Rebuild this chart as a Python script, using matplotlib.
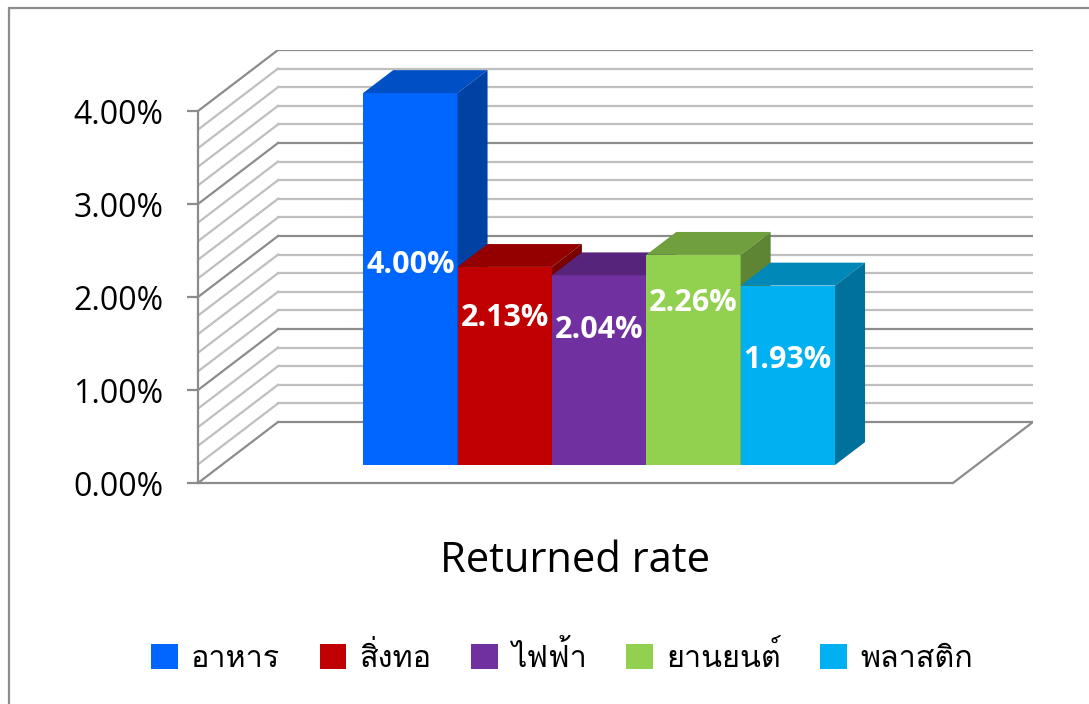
import matplotlib
matplotlib.use('Agg')
import matplotlib.pyplot as plt
from matplotlib.patches import Polygon, Patch, Rectangle
from matplotlib import font_manager
from fontTools.ttLib import TTFont
import numpy as np

# ข้อมูล
categories = ['อาหาร', 'สิ่งทอ', 'ไฟฟ้า', 'ยานยนต์', 'พลาสติก']
values = [4.00, 2.13, 2.04, 2.26, 1.93]   # %
colors = ['#0066FF', '#C00000', '#7030A0', '#92D050', '#00B0F0']
label_pos = [2.15, 1.58, 1.45, 1.74, 1.13]   # ความสูงของป้ายตัวเลขบนแท่ง
group_label = 'Returned rate'
yticks = [0, 1, 2, 3, 4]


def thai_family():
    # หาฟอนต์ที่มีอักษรไทย
    for f in font_manager.fontManager.ttflist:
        try:
            cmap = TTFont(f.fname, fontNumber=0, lazy=True).getBestCmap()
        except Exception:
            continue
        if cmap and 0x0E2D in cmap:
            return f.name
    return 'DejaVu Sans'


THAI = thai_family()
plt.rcParams['font.family'] = ['Open Sans', THAI, 'DejaVu Sans']


def shade(c, k):
    r, g, b = matplotlib.colors.to_rgb(c)
    return (r * k, g * k, b * k)


W, H = 1089, 704
fig = plt.figure(figsize=(W / 100, H / 100), dpi=100)
ax = fig.add_axes([198 / W, (H - 483) / H, 835 / W, 433 / H])

# ความลึกของกราฟ 3 มิติ (หน่วยข้อมูล)
DX, DY = 0.106, 0.656
ymax = 4.0
ax.set_xlim(0, 1 + DX)
ax.set_ylim(0, ymax + DY)

major_c, minor_c = '#8C8C8C', '#BFBFBF'

# ผนังด้านหลังและด้านซ้าย
for v in np.arange(0, ymax + 0.001, 0.2):
    major = abs(v - round(v)) < 1e-6
    c = major_c if major else minor_c
    ax.plot([DX, 1 + DX], [v + DY, v + DY], color=c, lw=1.6, zorder=1)
    ax.plot([0, DX], [v, v + DY], color=c, lw=1.6, zorder=1)
# ขอบพื้นด้านขวา
ax.plot([1, 1 + DX], [0, DY], color=major_c, lw=1.6, zorder=1)

# แท่งกราฟ
f0, f1 = 0.295, 0.67
bw = 0.125
x0 = 0.5 - bw * len(values) / 2
for i, (v, c) in enumerate(zip(values, colors)):
    xl = x0 + i * bw + f0 * DX
    xr = xl + bw
    yb = f0 * DY
    yt = yb + v
    ddx, ddy = (f1 - f0) * DX, (f1 - f0) * DY
    z = 2 + i
    ax.add_patch(Polygon([(xl, yb), (xr, yb), (xr, yt), (xl, yt)],
                         closed=True, fc=c, ec='none', zorder=z))
    ax.add_patch(Polygon([(xl, yt), (xr, yt), (xr + ddx, yt + ddy), (xl + ddx, yt + ddy)],
                         closed=True, fc=shade(c, 0.77), ec='none', zorder=z))
    ax.add_patch(Polygon([(xr, yb), (xr + ddx, yb + ddy), (xr + ddx, yt + ddy), (xr, yt)],
                         closed=True, fc=shade(c, 0.64), ec='none', zorder=z))
    ax.text(xl + bw / 2, yb + label_pos[i], f'{v:.2f}%', color='white',
            fontsize=22, fontweight='bold', ha='center', va='center', zorder=20)

# แกน
for s in ['top', 'right']:
    ax.spines[s].set_visible(False)
ax.spines['left'].set_bounds(0, ymax)
ax.spines['bottom'].set_bounds(0, 1)
for s in ['left', 'bottom']:
    ax.spines[s].set_color(major_c)
    ax.spines[s].set_linewidth(1.6)
ax.set_yticks(yticks, [f'{t:.2f}%' for t in yticks])
ax.tick_params(axis='y', length=8, width=1.6, color=major_c, labelsize=23, pad=17)
ax.set_xticks([0.5], [group_label])
ax.tick_params(axis='x', length=0, labelsize=30, pad=41)
ax.set_facecolor('none')

# คำอธิบายสัญลักษณ์
handles = [Patch(fc=c, ec='none') for c in colors]
fig.legend(handles, categories, loc='center', bbox_to_anchor=(0.516, (H - 657) / H),
           ncol=5, frameon=False, handlelength=0.88, handleheight=0.88,
           handletextpad=0.42, columnspacing=1.3,
           prop={'family': [THAI, 'DejaVu Sans'], 'size': 22})

# กรอบรูป
fig.patches.append(Rectangle((9 / W, -0.02), 1.1, (H - 8) / H + 0.02,
                             transform=fig.transFigure, fill=False, ec='#8C8C8C', lw=1.6))

fig.savefig('out.png', dpi=100)
